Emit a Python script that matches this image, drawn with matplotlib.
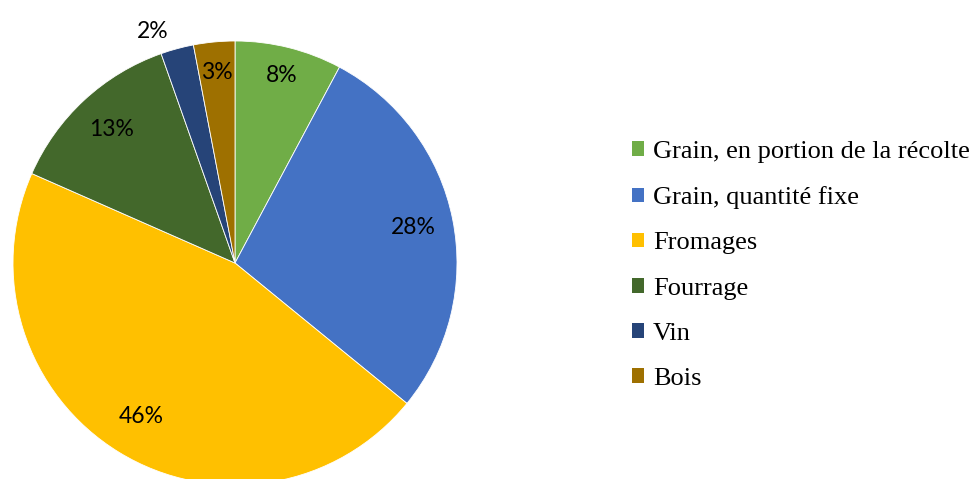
import numpy as np
import matplotlib
matplotlib.use("Agg")
import matplotlib.pyplot as plt
from matplotlib.patches import Patch

categories = ["Grain, en portion de la récolte", "Grain, quantité fixe", "Fromages",
              "Fourrage", "Vin", "Bois"]
shares = [7.8, 28.1, 45.7, 13.0, 2.4, 3.0]
pct_labels = ["8%", "28%", "46%", "13%", "2%", "3%"]
colors = ["#70AD47", "#4472C4", "#FFC000", "#43682B", "#264478", "#9E7000"]
label_dist = [0.87, 0.82, 0.81, 0.82, 1.08, 0.86]

fig = plt.figure(figsize=(9.76, 4.79), dpi=100)
cx, cy, r = 235, 263, 222
ax = fig.add_axes([(cx - r) / 976, (479 - cy - r) / 479, 2 * r / 976, 2 * r / 479])

wedges, _ = ax.pie(shares, colors=colors, startangle=90, counterclock=False,
                   wedgeprops=dict(edgecolor="white", linewidth=0.6))
ax.set_xlim(-1, 1)
ax.set_ylim(-1, 1)
ax.set_aspect("equal")

# percentage labels placed along each wedge's middle angle
for w, txt, d in zip(wedges, pct_labels, label_dist):
    ang = np.deg2rad((w.theta1 + w.theta2) / 2)
    x, y = d * np.cos(ang), d * np.sin(ang)
    if txt == "2%":
        x -= 0.09
    ax.text(x, y, txt, ha="center", va="center", fontsize=16.5, family="Lato",
            color="black")

handles = [Patch(facecolor=c, edgecolor="none") for c in colors]
fig.legend(handles, categories, loc="upper left", bbox_to_anchor=(632 / 976, 1 - 141 / 479),
           frameon=False, prop=dict(family="Liberation Serif", size=19),
           handlelength=0.47, handleheight=0.47, handletextpad=0.32, labelspacing=0.88,
           borderaxespad=0, borderpad=0)

fig.savefig("out.png", dpi=100)
